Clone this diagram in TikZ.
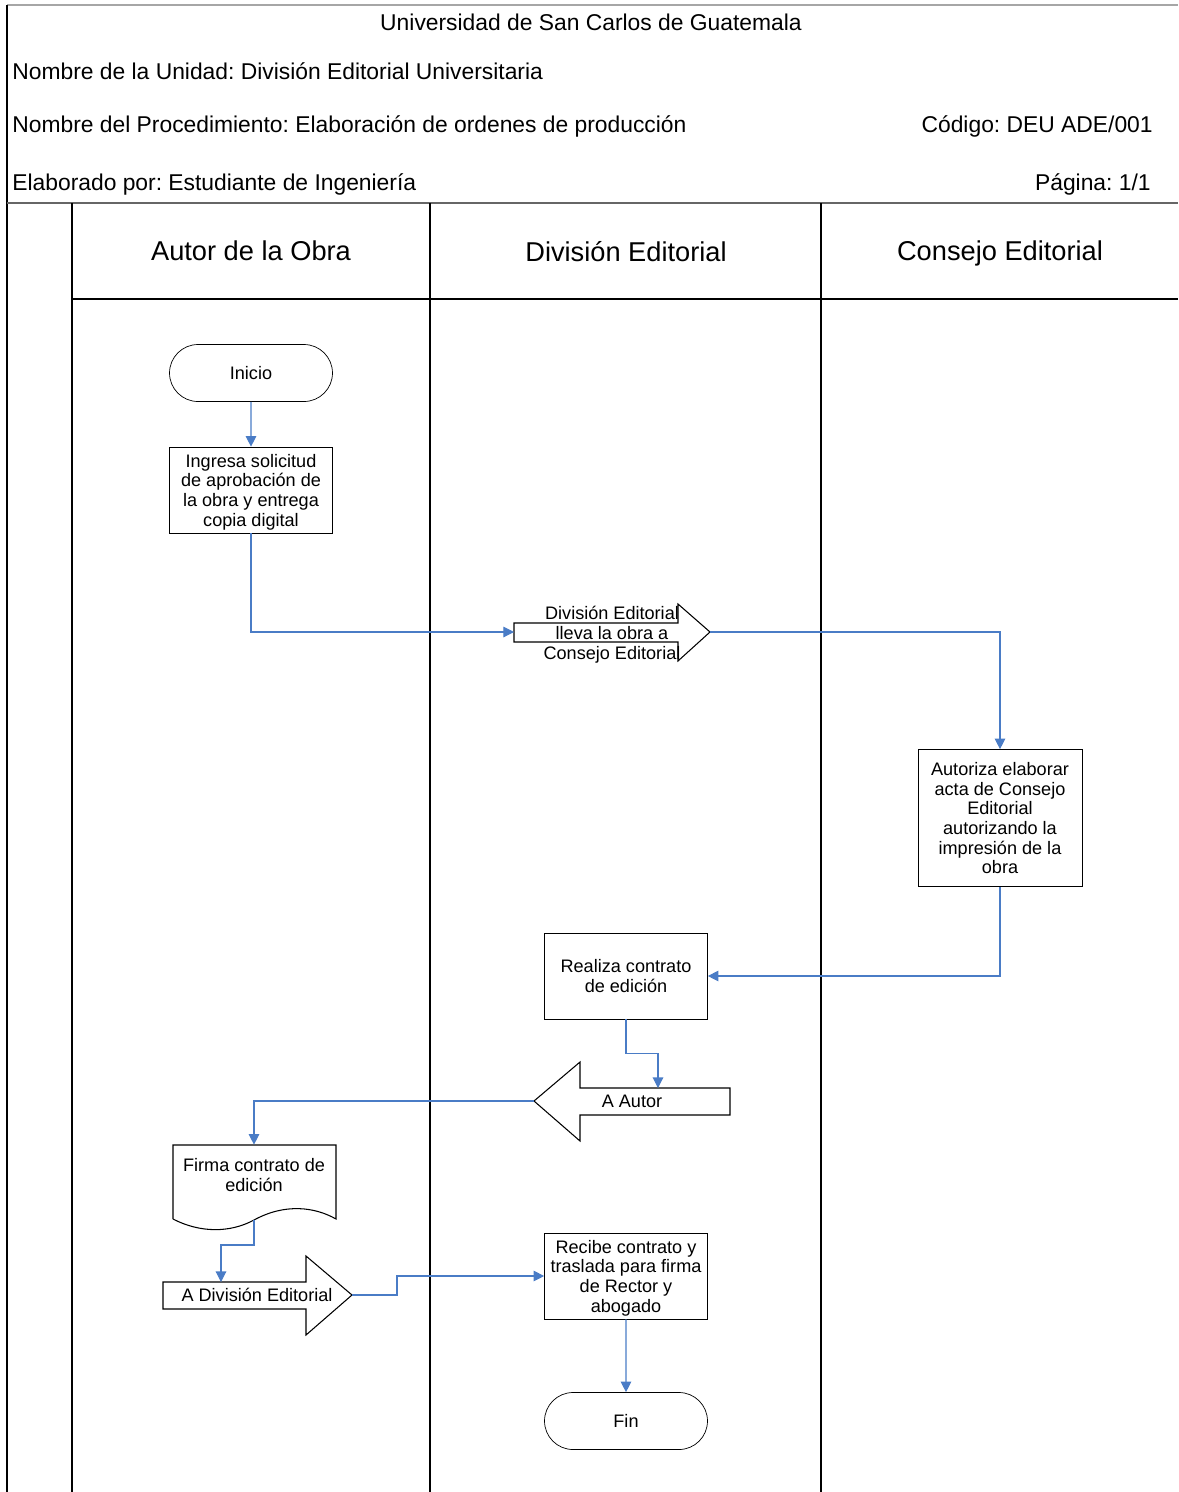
\documentclass[tikz,border=0pt]{standalone}
\usepackage{fontspec}
\setmainfont{Liberation Sans}
\frenchspacing
\usetikzlibrary{shapes.misc,arrows.meta}
\definecolor{flowblue}{HTML}{4A7CC6}
\begin{document}
\begin{tikzpicture}[
    x=0.02cm,y=-0.02cm,
    every node/.style={font=\fontsize{10.3}{11.2}\selectfont,align=center,inner sep=0pt,text depth=0pt},
    headtext/.style={font=\fontsize{13}{15}\selectfont},
    lanetitle/.style={font=\fontsize{15.5}{18}\selectfont},
    procbox/.style={draw,minimum width=3.26cm,minimum height=1.72cm},
    termbox/.style={draw,rounded rectangle,minimum width=3.26cm,minimum height=1.14cm},
    flow/.style={flowblue,line width=0.6pt,-{Triangle[length=6pt,width=6pt]}},
    shapeline/.style={line width=0.6pt}]
    \useasboundingbox (0,0) rectangle (1178,1492);
    % frame and lanes
    \draw[gray!70,line width=0.6pt] (7,5) -- (1178,5);
    \draw[line width=0.8pt] (7,5) -- (7,1492);
    \draw[gray!80!black,line width=1.3pt] (7,203) -- (1178,203);
    \foreach \lx in {72,430,821}
        \draw[line width=0.8pt] (\lx,203) -- (\lx,1492);
    \draw[line width=0.8pt] (72,299) -- (1178,299);
    % header
    \node[headtext] (univ) at (591,22) {Universidad de San Carlos de Guatemala};
    \node[headtext,anchor=west] (unidad) at (12,71) {Nombre de la Unidad: División Editorial Universitaria};
    \node[headtext,anchor=west] (proc) at (12,124) {Nombre del Procedimiento: Elaboración de ordenes de producción};
    \node[headtext,anchor=east] (codigo) at (1153,124) {Código: DEU ADE/001};
    \node[headtext,anchor=west] (elab) at (12,182) {Elaborado por: Estudiante de Ingeniería};
    \node[headtext,anchor=east] (pagina) at (1151,182) {Página: 1/1};
    \node[lanetitle] (autorlane) at (251,251) {Autor de la Obra};
    \node[lanetitle] (divlane) at (626,251) {División Editorial};
    \node[lanetitle] (consejolane) at (1000,251) {Consejo Editorial};
    % process nodes
    \node[termbox] (inicio) at (251,373) {Inicio};
    \node[procbox] (ingresa) at (251,490) {Ingresa solicitud\\de aprobación de\\la obra y entrega\\copia digital};
    \node[procbox,minimum width=3.28cm,minimum height=2.74cm] (autoriza) at (1000,818)
        {Autoriza elaborar\\acta de Consejo\\Editorial\\autorizando la\\impresión de la\\obra};
    \node[procbox] (realiza) at (626,976) {Realiza contrato\\de edición};
    \node[procbox] (recibe) at (626,1276) {Recibe contrato y\\traslada para firma\\de Rector y\\abogado};
    \node[termbox] (fin) at (626,1421) {Fin};
    % off-page arrows
    \draw[shapeline] (514,623) -- (678,623) -- (678,604) -- (710,632)
        -- (678,661) -- (678,642) -- (514,642) -- cycle;
    \node (lleva) at (612,633) {División Editorial\\lleva la obra a\\Consejo Editorial};
    \coordinate (llevain) at (514,632);
    \coordinate (llevatip) at (710,632);
    \draw[shapeline] (730,1088) -- (580,1088) -- (580,1062) -- (534,1101)
        -- (580,1141) -- (580,1115) -- (730,1115) -- cycle;
    \node (aautor) at (632,1101) {A Autor};
    \coordinate (autorin) at (658,1088);
    \coordinate (autortip) at (534,1101);
    \draw[shapeline] (163,1282) -- (306,1282) -- (306,1256) -- (352,1295)
        -- (306,1335) -- (306,1309) -- (163,1309) -- cycle;
    \node (adivision) at (257,1295) {A División Editorial};
    \coordinate (divin) at (221,1282);
    \coordinate (divtip) at (352,1295);
    % document
    \draw[shapeline] (173,1219) -- (173,1145) -- (336,1145) -- (336,1219)
        .. controls (315,1207) and (285,1203) .. (254,1220)
        .. controls (230,1233) and (200,1233) .. (173,1219);
    \node[minimum width=3.26cm,minimum height=1.2cm] (firma) at (254,1175) {Firma contrato de\\edición};
    \coordinate (firmabot) at (254,1220);
    % connectors
    \draw[flow] (inicio) -- (ingresa);
    \draw[flow] (ingresa.south) |- (llevain);
    \draw[flow] (llevatip) -| (autoriza.north);
    \draw[flow] (autoriza.south) |- (realiza.east);
    \draw[flow] (realiza.south) -- ++(0,34) -| (autorin);
    \draw[flow] (autortip) -| (firma.north);
    \draw[flow] (firmabot) -- ++(0,25) -| (divin);
    \draw[flow] (divtip) -- ++(45,0) |- (recibe.west);
    \draw[flow] (recibe) -- (fin);
\end{tikzpicture}
\end{document}
